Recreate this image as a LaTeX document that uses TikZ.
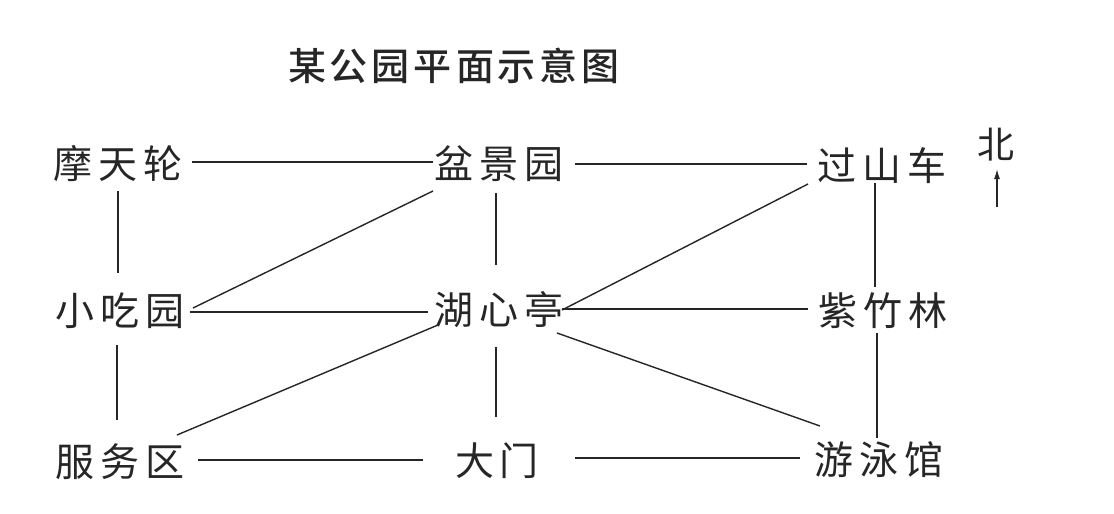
\documentclass[tikz,border=0pt]{standalone}
\usepackage{fontspec}
\setmainfont{Noto Sans CJK SC}
\newfontfamily\titlefont{Noto Sans CJK SC Medium}
\usetikzlibrary{calc,arrows.meta}
\newcommand\gp{\hspace{6pt}}
\newcommand\tg{\hspace{4pt}}
\tikzset{
  place/.style={inner sep=0pt, text=black!85, font=\fontsize{39}{42}\selectfont},
  link/.style={draw=black!85, line width=1.4pt},
  titletext/.style={inner sep=0pt, text=black!85, font=\titlefont\fontsize{38}{42}\selectfont}
}
\begin{document}
\begin{tikzpicture}[x=1pt,y=-1pt]
\path[use as bounding box, fill=white] (0,0) rectangle (1114,514);
\node[titletext] (title) at (454,66) {某\tg 公\tg 园\tg 平\tg 面\tg 示\tg 意\tg 图};
\node[place] (mt) at (118,164) {摩\gp 天\gp 轮};
\node[place] (pj) at (499,164) {盆\gp 景\gp 园};
\node[place] (gs) at (882,166) {过\gp 山\gp 车};
\node[place] (xc) at (120,311) {小\gp 吃\gp 园};
\node[place] (hx) at (499,310) {湖\gp 心\gp 亭};
\node[place] (zz) at (883,311) {紫\gp 竹\gp 林};
\node[place] (fw) at (120,462) {服\gp 务\gp 区};
\node[place] (dm) at (497,461) {大\gp 门};
\node[place] (yy) at (879,460) {游\gp 泳\gp 馆};
\node[place, font=\fontsize{37}{40}\selectfont] (bei) at (996,145) {北};
\coordinate (ab) at (997,207);
% horizontal
\draw[link] ($(mt)+(74,-2)$) -- ($(pj)+(-66,-2)$);
\draw[link] ($(pj)+(76,0)$) -- ($(gs)+(-75,-2)$);
\draw[link] ($(xc)+(70,1)$) -- ($(hx)+(-71,2)$);
\draw[link] ($(hx)+(63,-1)$) -- ($(zz)+(-75,-2)$);
\draw[link] ($(fw)+(78,-2)$) -- ($(dm)+(-74,-1)$);
\draw[link] ($(dm)+(78,-3)$) -- ($(yy)+(-79,-2)$);
% vertical
\draw[link] ($(mt)+(0,27)$) -- ($(xc)+(-2,-38)$);
\draw[link] ($(xc)+(-3,34)$) -- ($(fw)+(-3,-42)$);
\draw[link] ($(pj)+(-3,29)$) -- ($(hx)+(-3,-45)$);
\draw[link] ($(hx)+(-3,37)$) -- ($(dm)+(-1,-44)$);
\draw[link] ($(gs)+(-7,17)$) -- ($(zz)+(-8,-24)$);
\draw[link] ($(zz)+(-6,22)$) -- ($(yy)+(-2,-22)$);
% diagonal
\draw[link] ($(xc)+(73,-3)$) -- ($(pj)+(-66,27)$);
\draw[link] ($(hx)+(63,0)$) -- ($(gs)+(-74,18)$);
\draw[link] ($(hx)+(58,23)$) -- ($(yy)+(-59,-34)$);
\draw[link] ($(fw)+(57,-27)$) -- ($(hx)+(-61,15)$);
% north arrow
\draw[link, -{Latex[length=10pt,width=6pt]}] (ab) -- ($(bei)+(1,24)$);
\end{tikzpicture}
\end{document}
